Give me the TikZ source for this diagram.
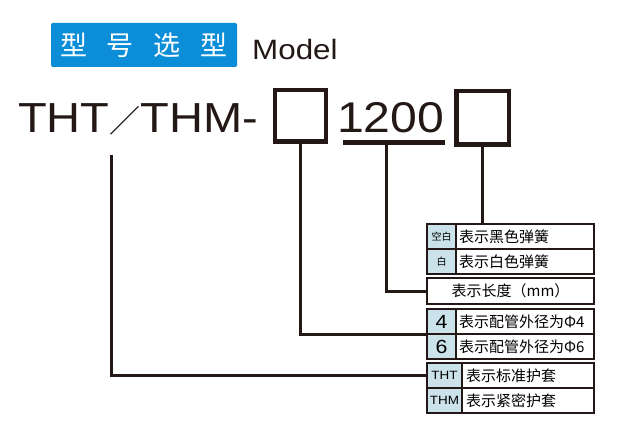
\documentclass[tikz,border=0pt]{standalone}
\usepackage{fontspec}
\setmainfont{Liberation Sans}[FakeStretch=1.12]
\newfontfamily\cjk{Noto Sans CJK SC}
\usetikzlibrary{positioning}
\definecolor{titleblue}{HTML}{0B8DD8}
\definecolor{tagblue}{HTML}{CBE2EA}
\definecolor{ink}{HTML}{231815}
\begin{document}
\begin{tikzpicture}[x=1pt,y=-1pt]
  \tikzstyle{cell}=[draw=ink, line width=2.4pt, inner sep=0pt, outer sep=0pt, minimum height=25pt]
  \tikzstyle{tag}=[cell, fill=tagblue, minimum width=29pt]
  \tikzstyle{desc}=[cell, text width=132pt, inner xsep=3pt, align=left, font=\cjk\fontsize{15}{15}\selectfont]
  \tikzstyle{lead}=[draw=ink, line width=3pt]
  \tikzstyle{slot}=[draw=ink, line width=4.5pt, inner sep=0pt, outer sep=0pt]
  \useasboundingbox (0,0) rectangle (637,441);
  \node[fill=titleblue, rounded corners=1.5pt, minimum width=186pt, minimum height=44pt, text=white,
    font=\cjk\fontsize{27}{27}\selectfont] (title) at (144,45)
    {型\hspace{20pt}号\hspace{20pt}选\hspace{20pt}型};
  \node[anchor=base west, inner sep=0pt, text=ink, font=\fontsize{28}{28}\selectfont] (model) at (252,60) {Model};
  \node[anchor=base west, inner sep=0pt, text=ink, font=\fontsize{42}{42}\selectfont] (series) at (18,132)
    {THT{\cjk\fontsize{31}{31}\selectfont ／}THM-};
  \node[slot, minimum width=51pt, minimum height=51.5pt] (pipeslot) at (300.5,116) {};
  \node[anchor=base west, inner sep=0pt, text=ink, font=\fontsize{43}{43}\selectfont] (len) at (337,133) {1200};
  \node[slot, minimum width=52.5pt, minimum height=53.5pt] (colorslot) at (482.5,118) {};
  \coordinate (barL) at (343,143);
  \coordinate (barR) at (445,143);
  \coordinate (barfoot) at (386,143);
  \coordinate (seriesfoot) at (111,155);
  \draw[lead, line width=5pt] (barL) -- (barR);

  \node[tag, font=\cjk\fontsize{10}{10}\selectfont] (blank) at (441.5,236.5) {空白};
  \node[desc, right=0pt of blank] (blacktxt) {表示黑色弹簧};
  \node[tag, below=0pt of blank, font=\cjk\fontsize{10}{10}\selectfont] (white) {白};
  \node[desc, right=0pt of white] (whitetxt) {表示白色弹簧};

  \node[cell, minimum width=167pt, minimum height=26pt, font=\cjk\fontsize{15}{15}\selectfont] (length) at (510.5,291) {表示长度（mm）};

  \node[tag, font=\fontsize{19}{19}\selectfont] (four) at (441.5,321.5) {4};
  \node[desc, right=0pt of four] (fourtxt) {表示配管外径为Φ4};
  \node[tag, below=0pt of four, font=\fontsize{19}{19}\selectfont] (six) {6};
  \node[desc, right=0pt of six] (sixtxt) {表示配管外径为Φ6};

  \node[tag, minimum width=35pt, font=\fontsize{12}{12}\selectfont] (tht) at (444.5,375.5) {THT};
  \node[desc, text width=124pt, inner xsep=4pt, right=0pt of tht] (thttxt) {表示标准护套};
  \node[tag, minimum width=35pt, below=0pt of tht, font=\fontsize{12}{12}\selectfont] (thm) {THM};
  \node[desc, text width=124pt, inner xsep=4pt, right=0pt of thm] (thmtxt) {表示紧密护套};

  \draw[lead] (colorslot.south) -- (colorslot.south |- blank.north);
  \draw[lead] (barfoot) |- (length.west);
  \draw[lead] (pipeslot.south) |- (four.south west);
  \draw[lead] (seriesfoot) |- (tht.west);
\end{tikzpicture}
\end{document}
